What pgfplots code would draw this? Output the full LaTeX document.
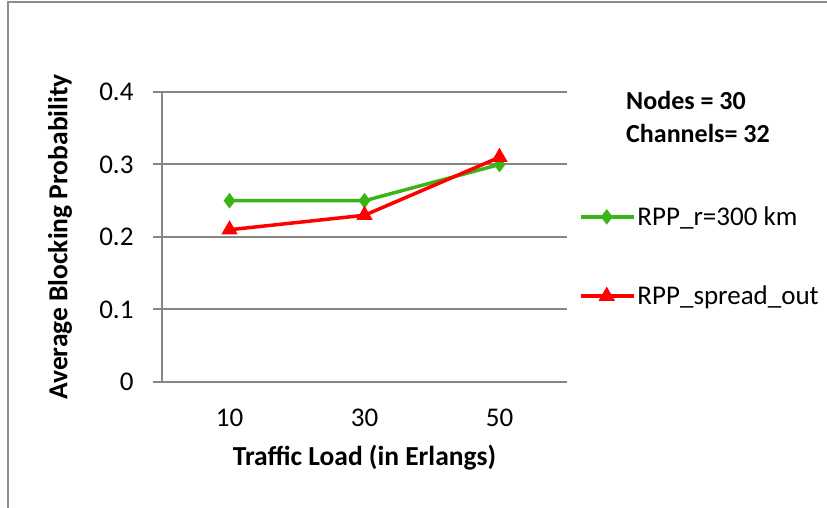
\documentclass[border=0pt]{standalone}
\usepackage{fontspec}
\setmainfont{Carlito}
\usepackage{pgfplots}
\pgfplotsset{compat=1.18}

\definecolor{rppgreen}{RGB}{57,181,24}
\definecolor{rppred}{RGB}{255,0,0}
\definecolor{gridgray}{RGB}{134,134,134}
\definecolor{framegray}{RGB}{140,140,140}

\newcommand{\chartfont}{\fontsize{27}{31}\selectfont}
\newcommand{\titlefont}{\fontsize{27.5}{31}\selectfont\bfseries}
\newcommand{\notefont}{\fontsize{26}{30}\selectfont\bfseries}

\begin{document}
\begin{tikzpicture}[x=1pt,y=1pt]
\useasboundingbox (0,0) rectangle (827,508);
\draw[framegray, line width=2pt] (8,0) -- (8,506) -- (827,506);

\begin{axis}[
    at={(162pt,126pt)},
    anchor=south west,
    scale only axis,
    width=405pt,
    height=290pt,
    xmin=-0.5, xmax=2.5,
    ymin=0, ymax=0.4,
    xtick={0,1,2},
    xticklabels={10,30,50},
    ytick={0,0.1,0.2,0.3,0.4},
    yticklabels={0,0.1,0.2,0.3,0.4},
    axis x line*=bottom,
    axis y line*=left,
    axis line style={gridgray, line width=2pt, -},
    ymajorgrids,
    major grid style={gridgray, line width=2pt},
    tick align=outside,
    major tick length=9pt,
    ytick style={gridgray, line width=2pt},
    xtick style={draw=none},
    ticklabel style={font=\chartfont, text=black},
    yticklabel style={xshift=-16pt},
    xticklabel style={yshift=-14pt},
    /pgf/number format/assume math mode=true,
    clip=false,
    xlabel={Traffic Load (in Erlangs)},
    ylabel={Average Blocking Probability},
    xlabel style={font=\titlefont, at={(axis description cs:0.5,-0.262)}, anchor=center},
    ylabel style={font=\titlefont, at={(axis description cs:-0.252,0.5)}, anchor=center},
    legend style={
        draw=none, fill=none,
        at={(axis description cs:1.0296,0.4328)}, anchor=west,
        inner sep=0pt, outer sep=0pt,
        font=\chartfont,
        row sep=55pt,
        legend cell align=left,
    },
    legend image code/.code={
        \draw[mark repeat=2, mark phase=2] plot coordinates {(0pt,0pt) (26pt,0pt) (53pt,0pt)};
    },
]
\addplot[rppgreen, line width=3.5pt, mark=diamond*, mark size=7pt,
    mark options={solid, fill=rppgreen, line width=1pt}]
    coordinates {(0,0.25) (1,0.25) (2,0.30)};
\addlegendentry{RPP\_r=300 km}

\addplot[rppred, line width=3.5pt, mark=triangle*, mark size=8.5pt,
    mark options={solid, fill=rppred, line width=1pt}]
    coordinates {(0,0.21) (1,0.23) (2,0.31)};
\addlegendentry{RPP\_spread\_out}
\end{axis}

\node[anchor=west, inner sep=0pt, font=\notefont] at (626,408) {Nodes = 30};
\node[anchor=west, inner sep=0pt, font=\notefont] at (626,375) {Channels= 32};
\end{tikzpicture}
\end{document}
